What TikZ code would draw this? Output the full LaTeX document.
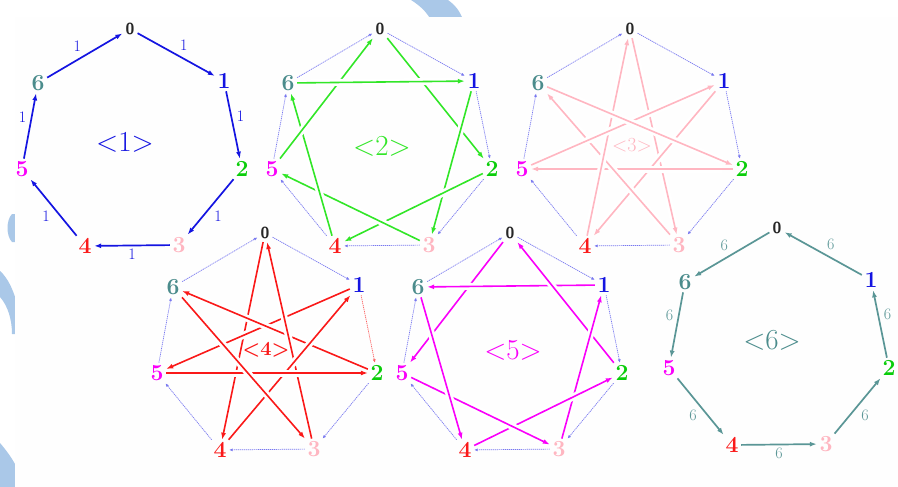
\documentclass[tikz,border=0pt]{standalone}
\usetikzlibrary{arrows.meta}
\definecolor{cblue}{RGB}{20,20,225}
\definecolor{cgreen}{RGB}{50,230,40}
\definecolor{cgreenv}{RGB}{10,205,10}
\definecolor{cpink}{RGB}{255,182,193}
\definecolor{cred}{RGB}{250,25,25}
\definecolor{cmag}{RGB}{250,0,250}
\definecolor{cteal}{RGB}{75,140,140}
\definecolor{ctealedge}{RGB}{90,150,150}
\definecolor{cdot}{RGB}{120,120,240}
\definecolor{cwm}{RGB}{170,200,232}
\definecolor{cbg}{RGB}{254,254,254}
\tikzset{
  vlab/.style={font=\fontsize{23}{23}\selectfont\bfseries, inner sep=2.5pt},
  vzero/.style={font=\fontsize{16}{16}\selectfont\sffamily\bfseries, text=black!85, inner sep=3pt},
  elab/.style={font=\fontsize{16}{16}\selectfont, inner sep=3pt},
  clab/.style={font=\fontsize{29}{29}\selectfont, inner sep=0pt},
  peri/.style={draw=cdot, line width=0.7pt, dash pattern=on 1.2pt off 0.8pt, -{Latex[length=3.5pt,width=3pt]}},
  ring/.style={line width=1.7pt, -{Latex[length=7pt,width=5pt]}},
  star/.style={line width=1.6pt, -{Latex[length=7pt,width=5pt]},
    preaction={draw=white, line width=7pt, -, shorten <=11pt, shorten >=11pt}}
}
\newcommand{\mkhept}[3]{%
  \begin{scope}[shift={(#2,#3)}]
    \node[vzero] (#10) at (0,0) {0};
    \node[vlab,text=cblue] (#11) at (94,52) {1};
    \node[vlab,text=cgreenv] (#12) at (112,140) {2};
    \node[vlab,text=cpink] (#13) at (49,216) {3};
    \node[vlab,text=cred] (#14) at (-45,217) {4};
    \node[vlab,text=cmag] (#15) at (-108,140) {5};
    \node[vlab,text=cteal] (#16) at (-92,54) {6};
  \end{scope}}
\newcommand{\mkperim}[2]{%
  \foreach \i/\j in {#2}{\draw[peri] (#1\i) -- (#1\j);}}
\newcommand{\mkstar}[3]{%
  \foreach \i in {0,...,6}{%
    \pgfmathtruncatemacro{\j}{mod(\i+#2,7)}%
    \draw[star,draw=#3] (#1\i) -- (#1\j);}}
\begin{document}
\begin{tikzpicture}[x=1pt,y=-1pt]
\useasboundingbox (0,0) rectangle (898,487);
\fill[white] (0,0) rectangle (898,487);
% watermark pieces
\fill[cwm] (411,0) -- (448,0) .. controls (455,5) and (460,11) .. (463,20) -- (431,20) .. controls (426,11) and (419,5) .. (411,0) -- cycle;
\fill[cwm] (12,214) .. controls (6,220) and (6,236) .. (12,242) -- (16,242) -- (16,214) -- cycle;
\fill[cwm] (0,271) .. controls (8,278) and (13,290) .. (16,300) -- (16,334) -- (12,334) .. controls (12,320) and (8,306) .. (0,297) -- cycle;
\fill[cwm] (0,443) .. controls (6,450) and (12,458) .. (16,466) -- (16,487) -- (0,487) -- cycle;
\fill[cbg] (15,17) rectangle (898,487);

% vertices
\mkhept{a}{130}{29}
\mkhept{b}{380}{29}
\mkhept{c}{630}{29}
\mkhept{d}{265}{233}
\mkhept{e}{510}{233}
\mkhept{f}{777}{228}

% centre labels
\node[clab,text=cblue] (ac) at (125,142) {<1>};
\node[clab,text=cgreen] (bc) at (382,146) {<2>};
\node[clab,text=cpink,font=\fontsize{20}{20}\selectfont] (cc) at (632,145) {<3>};
\node[clab,text=cred,font=\fontsize{20}{20}\selectfont\bfseries] (dc) at (266,350) {<4>};
\node[clab,text=cmag] (ec) at (513,350) {<5>};
\node[clab,text=cteal] (fc) at (772,340) {<6>};

% perimeters (dotted)
\mkperim{b}{0/1,1/2,2/3,3/4,4/5,5/6,6/0}
\mkperim{c}{0/1,1/2,2/3,3/4,4/5,5/6,6/0}
\mkperim{d}{0/1,2/3,3/4,4/5,5/6,6/0}
\draw[peri,draw=cred!70] (d1) -- (d2);
\mkperim{e}{0/1,1/2,2/3,3/4,4/5,5/6,6/0}

% <1>
\foreach \i in {0,...,6}{%
  \pgfmathtruncatemacro{\j}{mod(\i+1,7)}%
  \draw[ring,draw=cblue] (a\i) -- node[elab,auto,text=cblue] (al\i) {1} (a\j);}
% <6>
\foreach \i in {0,...,6}{%
  \pgfmathtruncatemacro{\j}{mod(\i+6,7)}%
  \draw[ring,draw=ctealedge] (f\i) -- node[elab,auto,swap,text=ctealedge] (fl\i) {6} (f\j);}

% stars
\mkstar{b}{2}{cgreen}
\mkstar{c}{3}{cpink}
\mkstar{d}{4}{cred}
\mkstar{e}{5}{cmag}
\end{tikzpicture}
\end{document}
